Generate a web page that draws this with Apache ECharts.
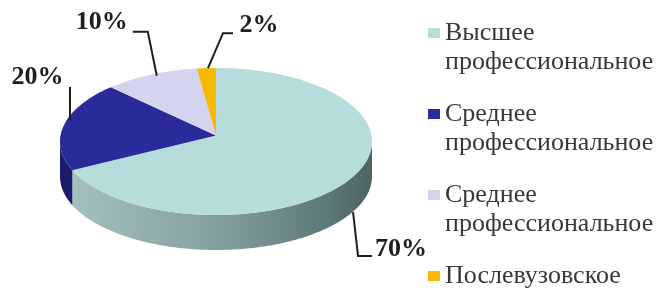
<!DOCTYPE html>
<html><head><meta charset="utf-8">
<script src="https://cdn.jsdelivr.net/npm/echarts@6/dist/echarts.min.js"></script>
<style>html,body{margin:0;padding:0;background:#fff}#c{width:664px;height:288px}</style>
</head><body><div id="c"></div><script>
// ---- data ----
const categories = ['Высшее\nпрофессиональное', 'Среднее\nпрофессиональное', 'Среднее\nпрофессиональное ', 'Послевузовское'];
const values = [70, 20, 10, 2];
const labels = ['70%', '20%', '10%', '2%'];

// ---- style / layout ----
const colors = ['#b6dcdc', '#2a2a9a', '#d4d4f0', '#f6b800'];
const sideColors = [
  new echarts.graphic.LinearGradient(0, 0, 1, 0, [
    {offset: 0, color: '#a3c0bf'}, {offset: 0.45, color: '#86a3a2'},
    {offset: 0.85, color: '#5d7878'}, {offset: 1, color: '#4c6464'}]),
  '#1b1b68', '#a9a9c8', '#c08f00'];
const CX = 216, CY = 141.5, RX = 156, RY = 73.5, DEPTH = 35, APEX_DY = -6;
const leaderOff = [
  [[7, 30], [12, 74], [26, 74]],
  [[6.4, -5.8], [6.4, -38.8]],
  [[6, 1], [-3, -43], [-18, -43]],
  [[1.6, 0], [16.6, -35], [26.6, -35]]
];
const labelOff = [[29, 67, 'left'], [-26, -48, 'center'], [-49, -52, 'center'], [52.6, -43, 'center']];

const total = values.reduce((a, b) => a + b, 0);
function pt(deg, dy) {
  const r = deg * Math.PI / 180;
  return [CX + RX * Math.sin(r), CY - RY * Math.cos(r) + (dy || 0)];
}
function arc(a0, a1, dy) {
  const pts = [];
  const n = Math.max(2, Math.ceil(Math.abs(a1 - a0)));
  for (let k = 0; k <= n; k++) pts.push(pt(a0 + (a1 - a0) * k / n, dy));
  return pts;
}
function makeRender(i) {
  return function (params, api) {
    const v = api.value(0);
    let before = 0;
    for (let j = 0; j < i; j++) before += values[j];
    const a0 = before / total * 360;
    const a1 = a0 + v / total * 360;
    const children = [];
    const s0 = Math.max(a0, 90), s1 = Math.min(a1, 270);
    if (s1 > s0) {
      const top = arc(s0, s1, 0);
      const bot = arc(s1, s0, DEPTH);
      children.push({type: 'polygon', shape: {points: top.concat(bot)},
        style: {fill: sideColors[i], stroke: null}});
    }
    const apex = [CX, CY + APEX_DY];
    children.push({type: 'polygon', shape: {points: [apex].concat(arc(a0, a1, 0))},
      style: {fill: api.visual('color'), stroke: null}});
    const m = pt((a0 + a1) / 2, 0);
    const linePts = leaderOff[i].map(o => [m[0] + o[0], m[1] + o[1]]);
    children.push({type: 'polyline', shape: {points: linePts},
      style: {stroke: '#1e1e1e', lineWidth: 2, fill: null}});
    children.push({type: 'text', x: m[0] + labelOff[i][0], y: m[1] + labelOff[i][1],
      style: {text: labels[i], fontFamily: 'Liberation Serif', fontWeight: 'bold', fontSize: 26,
        fill: '#1e1e1e', align: labelOff[i][2], verticalAlign: 'middle'}});
    return {type: 'group', children};
  };
}

const chart = echarts.init(document.getElementById('c'), null, {renderer: 'canvas'});
chart.setOption({
  animation: false,
  legend: {
    orient: 'vertical', left: 428, top: -10.5, height: 500, padding: 0,
    itemWidth: 12, itemHeight: 10, itemGap: -6, icon: 'rect',
    textStyle: {fontFamily: 'Liberation Serif', fontSize: 26, lineHeight: 29, color: '#383838'},
    formatter: name => name.indexOf('\n') >= 0 ? '\n' + name : '\n' + name + '\n',
    data: categories
  },
  series: categories.map((name, i) => ({
    type: 'custom', name, coordinateSystem: 'none',
    data: [[values[i]]], itemStyle: {color: colors[i]},
    renderItem: makeRender(i)
  }))
});
</script></body></html>
